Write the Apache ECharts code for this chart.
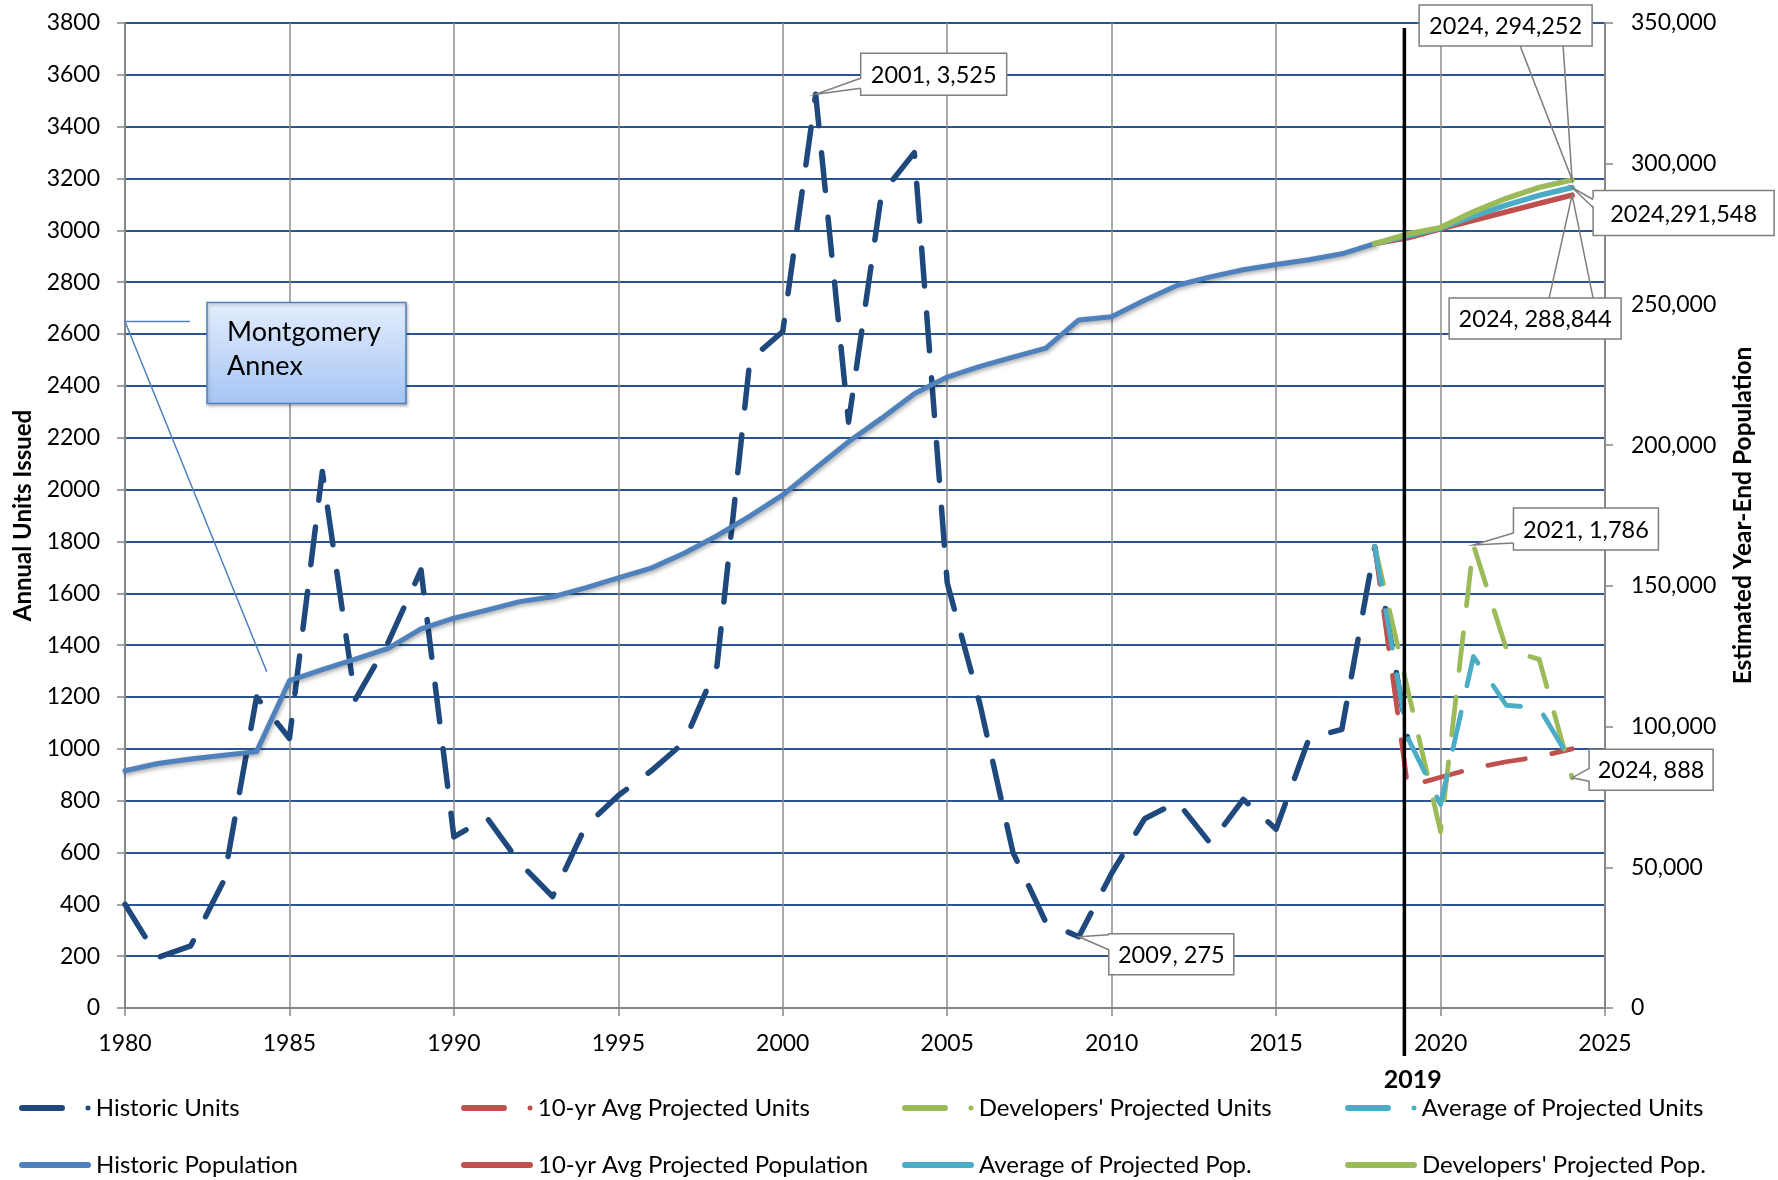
<!DOCTYPE html>
<html><head><meta charset="utf-8">
<script src="https://cdn.jsdelivr.net/npm/echarts@6/dist/echarts.min.js"></script>
<style>html,body{margin:0;padding:0;background:#fff}#c{width:1778px;height:1180px}</style>
</head><body><div id="c"></div>
<script>
// ---------- DATA ----------
const histUnitYears = [1980,1981,1982,1983,1984,1985,1986,1987,1988,1989,1990,1991,1992,1993,1994,1995,1996,1997,1998,1999,2000,2001,2002,2003,2004,2005,2006,2007,2008,2009,2010,2011,2012,2013,2014,2015,2016,2017,2018,2019];
const historicUnits = [400,195,240,490,1200,1040,2070,1190,1410,1690,660,735,560,430,700,820,915,1025,1320,2500,2610,3525,2260,3140,3300,1640,1170,600,330,275,520,730,795,635,805,690,1040,1075,1780,1040];
const histPopYears = [1980,1981,1982,1983,1984,1985,1986,1987,1988,1989,1990,1991,1992,1993,1994,1995,1996,1997,1998,1999,2000,2001,2002,2003,2004,2005,2006,2007,2008,2009,2010,2011,2012,2013,2014,2015,2016,2017,2018];
const historicPopulation = [84300,86900,88500,89800,91100,116300,120200,124000,127800,134700,138500,141400,144400,146100,149300,152800,156300,161600,167800,174800,182300,191800,201200,209500,218300,224200,228000,231300,234500,244500,245600,251500,256800,259800,262300,264200,265900,268000,271600];
const projYears = [2018,2019,2020,2021,2022,2023,2024];
const avg10Units = [1780,855,890,925,950,970,1000];
const devUnits = [1780,1230,680,1786,1385,1345,888];
const avgProjUnits = [1780,1043,785,1356,1168,1158,944];
const avg10Pop = [271600,273700,276900,279900,282900,285900,288844];
const devPop = [271600,275000,277300,282900,287700,291600,294252];
const avgProjPop = [271600,274350,277100,281400,285300,288750,291548];
const xTicks = {min:1980, max:2025, step:5};
const leftTicks = {min:0, max:3800, step:200};
const rightTicks = {min:0, max:350000, step:50000};
const markerYear = 2019;

// ---------- STYLE ----------
const FONT = 'Lato';
const C = {navy:'#1F497D', blue:'#4F81BD', red:'#C0504D', green:'#9BBB59', cyan:'#4BACC6'};
const pairs = (xs, ys) => xs.map((x,i)=>[x, ys[i]]);
const dash = [38, 27];

function unitSeries(name, xs, ys, color, w, z) {
  return {name, type:'line', yAxisIndex:0, data:pairs(xs,ys), showSymbol:false, symbol:'circle', z,
    itemStyle:{color}, lineStyle:{color, width:w, type:dash, cap:'round', join:'round'}, emphasis:{disabled:true}, silent:true};
}
function popSeries(name, xs, ys, color, w, z, shadow) {
  const ls = {color, width:w, type:'solid', cap:'round', join:'round'};
  if (shadow) Object.assign(ls, {shadowColor:'rgba(0,0,0,0.35)', shadowBlur:4, shadowOffsetX:1, shadowOffsetY:2});
  return {name, type:'line', yAxisIndex:1, data:pairs(xs,ys), showSymbol:false, symbol:'circle', z,
    itemStyle:{color}, lineStyle:ls, emphasis:{disabled:true}, silent:true};
}

const series = [
  unitSeries('Historic Units', histUnitYears, historicUnits, C.navy, 5.5, 2),
  unitSeries('10-yr Avg Projected Units', projYears, avg10Units, C.red, 4.8, 3),
  unitSeries("Developers' Projected Units", projYears, devUnits, C.green, 4.8, 3),
  unitSeries('Average of Projected Units', projYears, avgProjUnits, C.cyan, 4.8, 4),
  popSeries('Historic Population', histPopYears, historicPopulation, C.blue, 5, 5, true),
  popSeries('10-yr Avg Projected Population', projYears, avg10Pop, C.red, 5.5, 6),
  popSeries('Average of Projected Pop.', projYears, avgProjPop, C.cyan, 5.5, 7),
  popSeries("Developers' Projected Pop.", projYears, devPop, C.green, 5.5, 8),
];

const unitIcon = 'path://M3,0 L43,0 A3,3 0 0 1 43,6 L3,6 A3,3 0 0 1 3,0 Z M66.5,3 A2.5,2.5 0 1 0 71.5,3 A2.5,2.5 0 1 0 66.5,3 Z';
const popIcon = 'path://M3,0 L69,0 A3,3 0 0 1 69,6 L3,6 A3,3 0 0 1 3,0 Z';
const legendLayout = [
  [0,19,1096],[1,461,1096],[2,902,1096],[3,1345,1096],
  [4,19,1153],[5,461,1153],[6,902,1153],[7,1345,1153]
];
const legends = legendLayout.map(([si,l,t]) => ({
  data:[{name:series[si].name, icon: si<4 ? unitIcon : popIcon}],
  left:l, top:t, padding:0, itemWidth:72, itemHeight:6, selectedMode:false,
  itemStyle:{borderWidth:0},
  textStyle:{fontFamily:FONT, fontSize:24, color:'#000', lineHeight:24}
}));

const axisGray = '#868686';
const option = {
  animation:false,
  backgroundColor:'#fff',
  grid:{left:125, right:173, top:23, bottom:172, containLabel:false},
  legend:legends,
  xAxis:{type:'value', min:xTicks.min, max:xTicks.max, interval:xTicks.step,
    axisLine:{show:true, lineStyle:{color:axisGray, width:2}},
    axisTick:{show:true, length:8, lineStyle:{color:axisGray, width:1.5}},
    axisLabel:{formatter:v=>String(v), fontFamily:FONT, fontSize:23, color:'#000', margin:24, showMaxLabel:true, showMinLabel:true},
    splitLine:{show:true, lineStyle:{color:'#8c8c8c', width:1.5}}},
  yAxis:[
    {type:'value', min:leftTicks.min, max:leftTicks.max, interval:leftTicks.step, position:'left',
      axisLine:{show:true, lineStyle:{color:axisGray, width:2}},
      axisTick:{show:true, length:8, lineStyle:{color:axisGray, width:1.5}},
      axisLabel:{formatter:v=>String(v), fontFamily:FONT, fontSize:23, color:'#000', margin:25},
      splitLine:{show:true, lineStyle:{color:'#2a5590', width:2}}},
    {type:'value', min:rightTicks.min, max:rightTicks.max, interval:rightTicks.step, position:'right',
      axisLine:{show:true, lineStyle:{color:axisGray, width:2}},
      axisTick:{show:true, length:8, lineStyle:{color:axisGray, width:1.5}},
      axisLabel:{formatter:v=>v.toLocaleString('en-US'), fontFamily:FONT, fontSize:23, color:'#000', margin:26},
      splitLine:{show:false}}
  ],
  series
};

const chart = echarts.init(document.getElementById('c'), null, {renderer:'canvas'});
chart.setOption(option);

// ---------- ANNOTATIONS ----------
function P(x, y, yi) { return chart.convertToPixel({xAxisIndex:0, yAxisIndex:yi||0}, [x, y]); }
const stroke = '#7f7f7f';
const g = [];
function txt(text, x, y, font, z, rot) {
  const el = {type:'text', z:z||110, x, y, style:{text, x:0, y:0, font, fill:'#000',
    align:'center', verticalAlign:'middle', textAlign:'center', textVerticalAlign:'middle'}};
  if (rot) el.rotation = rot;
  return el;
}
function callout(c) {
  const a = P(c.x, c.y, c.yi);
  const bx = a[0] + c.dx, by = a[1] + c.dy;
  g.push({type:'rect', z:100, shape:{x:bx, y:by, width:c.w, height:c.h}, style:{fill:'#fff', stroke, lineWidth:1.5}});
  if (c.lead === 'left') {
    const p1 = [bx, by + c.b[0]], p2 = [bx, by + c.b[1]];
    g.push({type:'polygon', z:101, shape:{points:[a, [bx+2, p1[1]], [bx+2, p2[1]]]}, style:{fill:'#fff'}});
    g.push({type:'polyline', z:102, shape:{points:[p1, a, p2]}, style:{stroke, lineWidth:1.5}});
  } else if (c.lead === 'bottom') {
    g.push({type:'polyline', z:102, shape:{points:[[bx+c.b[0], by+c.h], a, [bx+c.b[1], by+c.h]]}, style:{stroke, lineWidth:1.5}});
  } else if (c.lead === 'top') {
    g.push({type:'polyline', z:102, shape:{points:[[bx+c.b[0], by], a, [bx+c.b[1], by]]}, style:{stroke, lineWidth:1.5}});
  }
  g.push(txt(c.text, bx + c.w/2, by + c.h/2 + 1, '23.5px ' + FONT, 103));
}
const peakIdx = historicUnits.indexOf(3525);
const lowIdx = historicUnits.indexOf(275);
callout({text:'2001, 3,525', x:histUnitYears[peakIdx], y:historicUnits[peakIdx], yi:0, dx:45, dy:-41, w:146, h:42, lead:'left', b:[25,35]});
callout({text:'2009, 275', x:histUnitYears[lowIdx], y:historicUnits[lowIdx], yi:0, dx:30, dy:-3, w:125, h:41, lead:'left', b:[1,16]});
callout({text:'2024, 294,252', x:2024, y:devPop[6], yi:1, dx:-153, dy:-175, w:173, h:41, lead:'bottom', b:[101,144]});
callout({text:'2024,291,548', x:2024, y:avgProjPop[6], yi:1, dx:21, dy:3, w:181, h:45, lead:'left', b:[9,17]});
callout({text:'2024, 288,844', x:2024, y:avg10Pop[6], yi:1, dx:-123, dy:103, w:172, h:41, lead:'top', b:[100,144]});
callout({text:'2021, 1,786', x:2021, y:devUnits[3], yi:0, dx:40, dy:-37, w:145, h:42, lead:'left', b:[25,35]});
callout({text:'2024, 888', x:2024, y:devUnits[6], yi:0, dx:17, dy:-28.5, w:124, h:41, lead:'left', b:[19,32]});

// Montgomery Annex callout
const mA = P(1980, 2648, 0), mB = P(1984.31, 1297, 0);
g.push({type:'polyline', z:90, shape:{points:[[mA[0]+65, mA[1]], mA, mB]}, style:{stroke:'#4F81BD', lineWidth:1.5}});
g.push({type:'rect', z:91, shape:{x:mA[0]+82, y:mA[1]-19, width:199, height:101},
  style:{fill:new echarts.graphic.LinearGradient(0,0,0,1,[{offset:0,color:'#e4eefd'},{offset:1,color:'#a5c4f4'}]), stroke:'#4F81BD', lineWidth:1.5,
  shadowColor:'rgba(0,0,0,0.25)', shadowBlur:3, shadowOffsetX:1, shadowOffsetY:2}});
g.push({type:'text', z:92, x:mA[0]+102, y:mA[1]+11, style:{text:'Montgomery', x:0, y:0, font:'27px '+FONT, fill:'#000', align:'left', verticalAlign:'middle', textAlign:'left', textVerticalAlign:'middle'}});
g.push({type:'text', z:92, x:mA[0]+102, y:mA[1]+45, style:{text:'Annex', x:0, y:0, font:'27px '+FONT, fill:'#000', align:'left', verticalAlign:'middle', textAlign:'left', textVerticalAlign:'middle'}});

// 2019 marker line + label
const top0 = P(markerYear - 0.1, leftTicks.max, 0), bot0 = P(markerYear - 0.1, 0, 0);
g.push({type:'line', z:95, shape:{x1:top0[0], y1:top0[1]+5, x2:bot0[0], y2:bot0[1]+48}, style:{stroke:'#000', lineWidth:3.5}});
g.push(txt(String(markerYear), P(markerYear,0,0)[0]+5, bot0[1]+72, 'bold 25px '+FONT, 96));

// Axis titles
const midY = (top0[1] + bot0[1]) / 2;
g.push(txt('Annual Units Issued', 23.5, midY, 'bold 24px '+FONT, 96, Math.PI/2));
g.push(txt('Estimated Year-End Population', 1743, midY, 'bold 24.5px '+FONT, 96, Math.PI/2));

chart.setOption({graphic:g});
</script></body></html>
